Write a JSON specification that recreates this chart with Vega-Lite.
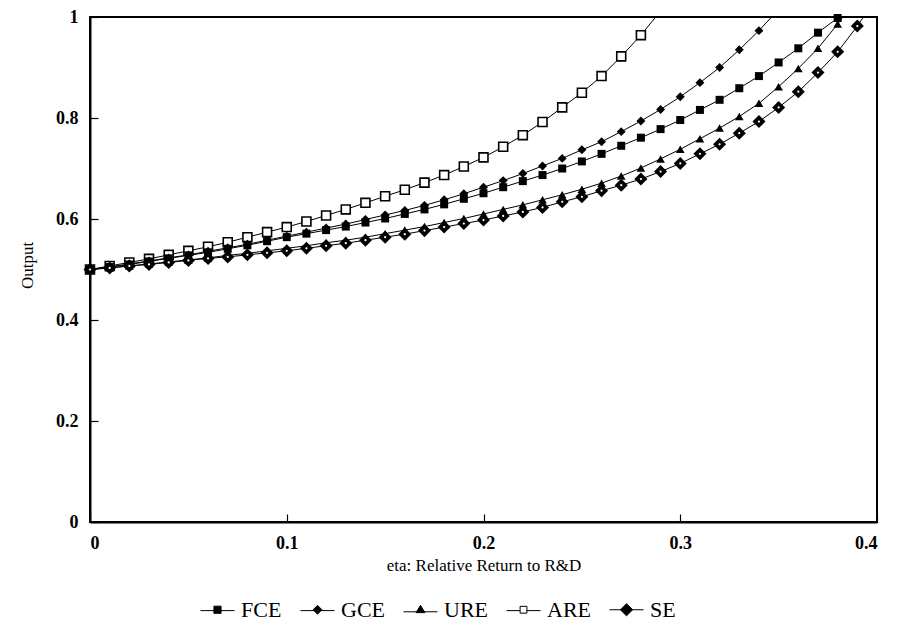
{
  "$schema": "https://vega.github.io/schema/vega-lite/v6.json",
  "width": 787,
  "height": 505,
  "autosize": {"type": "none"},
  "padding": {"left": 90, "top": 17, "right": 30, "bottom": 101},
  "background": "white",
  "config": {
    "font": "Times New Roman, Liberation Serif, DejaVu Serif, serif",
    "view": {"stroke": "black", "strokeWidth": 2},
    "axis": {
      "domainColor": "black", "domainWidth": 2, "tickColor": "black", "tickWidth": 1.2,
      "grid": false, "labelFont": "Times New Roman, Liberation Serif, DejaVu Serif, serif", "labelFontSize": 18, "labelFontWeight": "bold",
      "labelColor": "black", "titleFont": "Times New Roman, Liberation Serif, DejaVu Serif, serif", "titleFontSize": 17,
      "titleFontWeight": "normal", "titleColor": "black"
    },
    "legend": {
      "labelFont": "Times New Roman, Liberation Serif, DejaVu Serif, serif", "labelFontSize": 22, "labelColor": "black",
      "symbolStrokeColor": "black", "symbolStrokeWidth": 1
    }
  },
  "data": {"values": [
    {"eta":0,"series":"FCE","Output":0.5},{"eta":0.01,"series":"FCE","Output":0.505},{"eta":0.02,"series":"FCE","Output":0.51},{"eta":0.03,"series":"FCE","Output":0.516},{"eta":0.04,"series":"FCE","Output":0.522},{"eta":0.05,"series":"FCE","Output":0.528},{"eta":0.06,"series":"FCE","Output":0.534},{"eta":0.07,"series":"FCE","Output":0.541},{"eta":0.08,"series":"FCE","Output":0.548},{"eta":0.09,"series":"FCE","Output":0.556},{"eta":0.1,"series":"FCE","Output":0.564},{"eta":0.11,"series":"FCE","Output":0.571},{"eta":0.12,"series":"FCE","Output":0.578},{"eta":0.13,"series":"FCE","Output":0.585},{"eta":0.14,"series":"FCE","Output":0.593},{"eta":0.15,"series":"FCE","Output":0.601},{"eta":0.16,"series":"FCE","Output":0.61},{"eta":0.17,"series":"FCE","Output":0.619},{"eta":0.18,"series":"FCE","Output":0.629},{"eta":0.19,"series":"FCE","Output":0.64},{"eta":0.2,"series":"FCE","Output":0.651},{"eta":0.21,"series":"FCE","Output":0.663},{"eta":0.22,"series":"FCE","Output":0.675},{"eta":0.23,"series":"FCE","Output":0.687},{"eta":0.24,"series":"FCE","Output":0.7},{"eta":0.25,"series":"FCE","Output":0.714},{"eta":0.26,"series":"FCE","Output":0.729},{"eta":0.27,"series":"FCE","Output":0.745},{"eta":0.28,"series":"FCE","Output":0.761},{"eta":0.29,"series":"FCE","Output":0.778},{"eta":0.3,"series":"FCE","Output":0.796},{"eta":0.31,"series":"FCE","Output":0.816},{"eta":0.32,"series":"FCE","Output":0.836},{"eta":0.33,"series":"FCE","Output":0.859},{"eta":0.34,"series":"FCE","Output":0.883},{"eta":0.35,"series":"FCE","Output":0.91},{"eta":0.36,"series":"FCE","Output":0.938},{"eta":0.37,"series":"FCE","Output":0.969},{"eta":0.38,"series":"FCE","Output":0.998},{"eta":0.39,"series":"FCE","Output":1.03},
    {"eta":0,"series":"GCE","Output":0.5},{"eta":0.01,"series":"GCE","Output":0.505},{"eta":0.02,"series":"GCE","Output":0.511},{"eta":0.03,"series":"GCE","Output":0.517},{"eta":0.04,"series":"GCE","Output":0.523},{"eta":0.05,"series":"GCE","Output":0.529},{"eta":0.06,"series":"GCE","Output":0.536},{"eta":0.07,"series":"GCE","Output":0.543},{"eta":0.08,"series":"GCE","Output":0.55},{"eta":0.09,"series":"GCE","Output":0.558},{"eta":0.1,"series":"GCE","Output":0.566},{"eta":0.11,"series":"GCE","Output":0.574},{"eta":0.12,"series":"GCE","Output":0.582},{"eta":0.13,"series":"GCE","Output":0.59},{"eta":0.14,"series":"GCE","Output":0.599},{"eta":0.15,"series":"GCE","Output":0.608},{"eta":0.16,"series":"GCE","Output":0.617},{"eta":0.17,"series":"GCE","Output":0.627},{"eta":0.18,"series":"GCE","Output":0.638},{"eta":0.19,"series":"GCE","Output":0.65},{"eta":0.2,"series":"GCE","Output":0.663},{"eta":0.21,"series":"GCE","Output":0.676},{"eta":0.22,"series":"GCE","Output":0.69},{"eta":0.23,"series":"GCE","Output":0.705},{"eta":0.24,"series":"GCE","Output":0.72},{"eta":0.25,"series":"GCE","Output":0.737},{"eta":0.26,"series":"GCE","Output":0.753},{"eta":0.27,"series":"GCE","Output":0.773},{"eta":0.28,"series":"GCE","Output":0.794},{"eta":0.29,"series":"GCE","Output":0.817},{"eta":0.3,"series":"GCE","Output":0.842},{"eta":0.31,"series":"GCE","Output":0.87},{"eta":0.32,"series":"GCE","Output":0.9},{"eta":0.33,"series":"GCE","Output":0.935},{"eta":0.34,"series":"GCE","Output":0.973},{"eta":0.35,"series":"GCE","Output":1.015},
    {"eta":0,"series":"URE","Output":0.5},{"eta":0.01,"series":"URE","Output":0.5035},{"eta":0.02,"series":"URE","Output":0.507},{"eta":0.03,"series":"URE","Output":0.511},{"eta":0.04,"series":"URE","Output":0.515},{"eta":0.05,"series":"URE","Output":0.519},{"eta":0.06,"series":"URE","Output":0.523},{"eta":0.07,"series":"URE","Output":0.528},{"eta":0.08,"series":"URE","Output":0.532},{"eta":0.09,"series":"URE","Output":0.537},{"eta":0.1,"series":"URE","Output":0.542},{"eta":0.11,"series":"URE","Output":0.547},{"eta":0.12,"series":"URE","Output":0.553},{"eta":0.13,"series":"URE","Output":0.558},{"eta":0.14,"series":"URE","Output":0.564},{"eta":0.15,"series":"URE","Output":0.571},{"eta":0.16,"series":"URE","Output":0.578},{"eta":0.17,"series":"URE","Output":0.585},{"eta":0.18,"series":"URE","Output":0.593},{"eta":0.19,"series":"URE","Output":0.601},{"eta":0.2,"series":"URE","Output":0.61},{"eta":0.21,"series":"URE","Output":0.619},{"eta":0.22,"series":"URE","Output":0.628},{"eta":0.23,"series":"URE","Output":0.638},{"eta":0.24,"series":"URE","Output":0.648},{"eta":0.25,"series":"URE","Output":0.659},{"eta":0.26,"series":"URE","Output":0.671},{"eta":0.27,"series":"URE","Output":0.685},{"eta":0.28,"series":"URE","Output":0.701},{"eta":0.29,"series":"URE","Output":0.719},{"eta":0.3,"series":"URE","Output":0.738},{"eta":0.31,"series":"URE","Output":0.759},{"eta":0.32,"series":"URE","Output":0.78},{"eta":0.33,"series":"URE","Output":0.803},{"eta":0.34,"series":"URE","Output":0.829},{"eta":0.35,"series":"URE","Output":0.862},{"eta":0.36,"series":"URE","Output":0.898},{"eta":0.37,"series":"URE","Output":0.938},{"eta":0.38,"series":"URE","Output":0.986},{"eta":0.39,"series":"URE","Output":1.04},
    {"eta":0,"series":"ARE","Output":0.5},{"eta":0.01,"series":"ARE","Output":0.507},{"eta":0.02,"series":"ARE","Output":0.514},{"eta":0.03,"series":"ARE","Output":0.521},{"eta":0.04,"series":"ARE","Output":0.529},{"eta":0.05,"series":"ARE","Output":0.537},{"eta":0.06,"series":"ARE","Output":0.545},{"eta":0.07,"series":"ARE","Output":0.554},{"eta":0.08,"series":"ARE","Output":0.564},{"eta":0.09,"series":"ARE","Output":0.574},{"eta":0.1,"series":"ARE","Output":0.584},{"eta":0.11,"series":"ARE","Output":0.595},{"eta":0.12,"series":"ARE","Output":0.607},{"eta":0.13,"series":"ARE","Output":0.619},{"eta":0.14,"series":"ARE","Output":0.632},{"eta":0.15,"series":"ARE","Output":0.645},{"eta":0.16,"series":"ARE","Output":0.658},{"eta":0.17,"series":"ARE","Output":0.672},{"eta":0.18,"series":"ARE","Output":0.687},{"eta":0.19,"series":"ARE","Output":0.704},{"eta":0.2,"series":"ARE","Output":0.722},{"eta":0.21,"series":"ARE","Output":0.743},{"eta":0.22,"series":"ARE","Output":0.766},{"eta":0.23,"series":"ARE","Output":0.792},{"eta":0.24,"series":"ARE","Output":0.821},{"eta":0.25,"series":"ARE","Output":0.85},{"eta":0.26,"series":"ARE","Output":0.883},{"eta":0.27,"series":"ARE","Output":0.922},{"eta":0.28,"series":"ARE","Output":0.964},{"eta":0.29,"series":"ARE","Output":1.012},
    {"eta":0,"series":"SE","Output":0.5},{"eta":0.01,"series":"SE","Output":0.503},{"eta":0.02,"series":"SE","Output":0.507},{"eta":0.03,"series":"SE","Output":0.51},{"eta":0.04,"series":"SE","Output":0.514},{"eta":0.05,"series":"SE","Output":0.518},{"eta":0.06,"series":"SE","Output":0.522},{"eta":0.07,"series":"SE","Output":0.525},{"eta":0.08,"series":"SE","Output":0.529},{"eta":0.09,"series":"SE","Output":0.533},{"eta":0.1,"series":"SE","Output":0.537},{"eta":0.11,"series":"SE","Output":0.542},{"eta":0.12,"series":"SE","Output":0.547},{"eta":0.13,"series":"SE","Output":0.552},{"eta":0.14,"series":"SE","Output":0.558},{"eta":0.15,"series":"SE","Output":0.564},{"eta":0.16,"series":"SE","Output":0.57},{"eta":0.17,"series":"SE","Output":0.577},{"eta":0.18,"series":"SE","Output":0.584},{"eta":0.19,"series":"SE","Output":0.591},{"eta":0.2,"series":"SE","Output":0.598},{"eta":0.21,"series":"SE","Output":0.606},{"eta":0.22,"series":"SE","Output":0.614},{"eta":0.23,"series":"SE","Output":0.623},{"eta":0.24,"series":"SE","Output":0.634},{"eta":0.25,"series":"SE","Output":0.644},{"eta":0.26,"series":"SE","Output":0.656},{"eta":0.27,"series":"SE","Output":0.667},{"eta":0.28,"series":"SE","Output":0.679},{"eta":0.29,"series":"SE","Output":0.694},{"eta":0.3,"series":"SE","Output":0.71},{"eta":0.31,"series":"SE","Output":0.729},{"eta":0.32,"series":"SE","Output":0.748},{"eta":0.33,"series":"SE","Output":0.77},{"eta":0.34,"series":"SE","Output":0.793},{"eta":0.35,"series":"SE","Output":0.821},{"eta":0.36,"series":"SE","Output":0.852},{"eta":0.37,"series":"SE","Output":0.89},{"eta":0.38,"series":"SE","Output":0.931},{"eta":0.39,"series":"SE","Output":0.982},{"eta":0.4,"series":"SE","Output":1.04}
  ]},
  "encoding": {
    "x": {"field": "eta", "type": "quantitative", "scale": {"domain": [0, 0.4], "nice": false},
      "axis": {"title": "eta: Relative Return to R&D", "values": [0, 0.1, 0.2, 0.3, 0.4], "format": "~g", "tickSize": -8, "labelPadding": 20, "titlePadding": 5}},
    "y": {"field": "Output", "type": "quantitative", "scale": {"domain": [0, 1], "nice": false},
      "axis": {"title": "Output", "values": [0, 0.2, 0.4, 0.6, 0.8, 1], "format": "~g", "tickSize": -8, "labelPadding": 20, "titleX": -54, "titleY": 248}}
  },
  "layer": [
    {"mark": {"type": "line", "color": "black", "strokeWidth": 1, "clip": true}, "encoding": {"detail": {"field": "series"}}},
    {"transform": [{"filter": "datum.series == 'ARE' && datum.Output <= 1"}], "mark": {"type": "point", "shape": "square", "filled": true, "fill": "white", "stroke": "black", "strokeWidth": 1.6, "size": 80, "opacity": 1}},
    {"transform": [{"filter": "datum.series == 'FCE' && datum.Output <= 1"}], "mark": {"type": "point", "shape": "square", "filled": true, "color": "black", "size": 64, "opacity": 1}},
    {"transform": [{"filter": "datum.series == 'GCE' && datum.Output <= 1"}], "mark": {"type": "point", "shape": "diamond", "filled": true, "color": "black", "size": 80, "opacity": 1}},
    {"transform": [{"filter": "datum.series == 'URE' && datum.Output <= 1"}], "mark": {"type": "point", "shape": "triangle-up", "filled": true, "color": "black", "size": 75, "opacity": 1}},
    {"transform": [{"filter": "datum.series == 'SE' && datum.Output <= 1"}], "mark": {"type": "point", "shape": "diamond", "filled": true, "color": "black", "size": 170, "opacity": 1}},
    {"transform": [{"filter": "datum.series == 'SE' && datum.Output <= 1"}], "mark": {"type": "point", "shape": "circle", "filled": true, "color": "white", "size": 5, "opacity": 1}},
    {"transform": [{"filter": "datum.eta < 0"}],
      "mark": {"type": "point", "filled": true, "opacity": 1, "strokeWidth": 1},
      "encoding": {
        "shape": {"field": "series", "type": "nominal",
          "scale": {"domain": ["FCE", "GCE", "URE", "ARE", "SE"],
            "range": ["M-1,0.05H1M-0.21,-0.21H0.21V0.21H-0.21Z", "M-1,0.05H1M0,-0.26L0.26,0L0,0.26L-0.26,0Z", "M-1,0.12H1M0,-0.26L0.26,0.17L-0.26,0.17Z", "M-1,0.05H-0.2M0.2,0.05H1M-0.2,-0.2H0.2V0.2H-0.2Z", "M-1,0H1M0,-0.36L0.36,0L0,0.36L-0.36,0Z"]},
          "legend": {"title": null, "orient": "none", "direction": "horizontal", "legendX": 110, "legendY": 575, "symbolSize": 1156, "columnPadding": 16, "labelOffset": 6}},
        "fill": {"field": "series", "type": "nominal",
          "scale": {"domain": ["FCE", "GCE", "URE", "ARE", "SE"], "range": ["black", "black", "black", "white", "black"]},
          "legend": {"title": null, "orient": "none", "direction": "horizontal", "legendX": 110, "legendY": 575, "symbolSize": 1156, "columnPadding": 16, "labelOffset": 6}},
        "stroke": {"field": "series", "type": "nominal",
          "scale": {"domain": ["FCE", "GCE", "URE", "ARE", "SE"], "range": ["black", "black", "black", "black", "black"]},
          "legend": {"title": null, "orient": "none", "direction": "horizontal", "legendX": 110, "legendY": 575, "symbolSize": 1156, "columnPadding": 16, "labelOffset": 6}}
      }
    }
  ]
}
